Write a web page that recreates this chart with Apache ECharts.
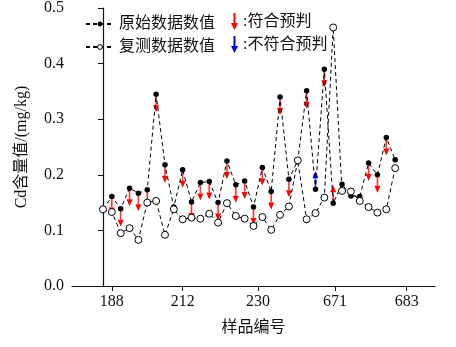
<!DOCTYPE html>
<html><head><meta charset="utf-8">
<script src="https://cdn.jsdelivr.net/npm/echarts@6/dist/echarts.min.js"></script>
<style>html,body{margin:0;padding:0;background:#fff}#c{width:456px;height:347px}</style>
</head><body><div id="c"></div>
<script>
// sample sequence (x = position index 0..33)
const originalValues = [0.138,0.161,0.139,0.176,0.167,0.173,0.345,0.218,0.142,0.209,0.151,0.186,0.188,0.150,0.225,0.182,0.189,0.142,0.213,0.170,0.340,0.192,0.226,0.351,0.174,0.390,0.149,0.183,0.162,0.161,0.221,0.200,0.267,0.227];
const retestValues   = [0.138,0.133,0.095,0.104,0.083,0.150,0.153,0.092,0.138,0.120,0.123,0.121,0.130,0.114,0.149,0.126,0.121,0.108,0.124,0.101,0.128,0.143,0.226,0.120,0.131,0.159,0.465,0.171,0.170,0.153,0.142,0.132,0.138,0.212];
// predicted direction: -1 down, 1 up, 0 no arrow
const arrowDir       = [0,-1,-1,-1,-1,-1,-1,-1,0,-1,-1,-1,-1,-1,-1,-1,-1,-1,-1,-1,-1,-1,0,-1,1,-1,1,0,0,0,-1,-1,-1,0];
// 1 = 符合预判 (red), 0 = 不符合预判 (blue)
const arrowMatch     = [1,1,1,1,1,1,1,1,1,1,1,1,1,1,1,1,1,1,1,1,1,1,1,1,0,1,1,1,1,1,1,1,1,1];
const tickLabels     = ['188','212','230','671','683'];
const tickPositions  = [1, 9, 17.5, 26.2, 34.3];

const seriesNames = ['原始数据数值','复测数据数值'];
const arrowNames = [':符合预判',':不符合预判'];

const origData = originalValues.map((v,i)=>[i,v]);
const retData = retestValues.map((v,i)=>[i,v]);
const redArrows = [], blueArrows = [];
arrowDir.forEach((d,i)=>{ if(d!==0){ (arrowMatch[i]?redArrows:blueArrows).push([i, originalValues[i], d]); } });

function arrowRender(color){
  return function(params, api){
    const p = api.coord([api.value(0), api.value(1)]);
    const dir = api.value(2);
    const L = 18, head = 7, hw = 3;
    const tipY = p[1] - dir*L;
    const baseY = tipY + dir*head;
    return {type:'group', children:[
      {type:'line', shape:{x1:p[0], y1:p[1], x2:p[0], y2:baseY}, style:{stroke:color, lineWidth:1.6, opacity:0.8}},
      {type:'polygon', shape:{points:[[p[0]-hw,baseY],[p[0]+hw,baseY],[p[0],tipY]]}, style:{fill:color}}
    ]};
  };
}

const serif = '"Liberation Serif","Noto Sans CJK SC",serif';
const arrowIcon = 'path://M2,0 L4,0 L4,10 L6.5,10 L3,17 L-0.5,10 L2,10 Z';

const chart = echarts.init(document.getElementById('c'), null, {renderer:'canvas'});
chart.setOption({
  animation:false,
  backgroundColor:'#fff',
  grid:{left:72, right:21, top:8, bottom:61},
  legend:[
    {data:[
        {name:seriesNames[0]},
        {name:seriesNames[1], itemStyle:{color:'#fff', borderColor:'#000', borderWidth:1}}
      ],
     orient:'vertical', left:80, top:11, itemWidth:28, itemHeight:6, itemGap:7,
     textStyle:{fontFamily:serif, fontSize:16, color:'#111'}},
    {data:arrowNames.map(n=>({name:n, icon:arrowIcon})), orient:'vertical', left:226, top:8, itemWidth:7, itemHeight:17, itemGap:6,
     textStyle:{fontFamily:serif, fontSize:16, color:'#111'}}
  ],
  xAxis:{type:'value', min:-3.5, max:37.5,
    name:'样品编号', nameLocation:'middle', nameGap:34,
    nameTextStyle:{fontFamily:serif, fontSize:16, color:'#111'},
    axisLine:{show:true, lineStyle:{color:'#111', width:1.2}},
    axisTick:{show:true, customValues:tickPositions, length:5, lineStyle:{color:'#111'}},
    axisLabel:{customValues:tickPositions, fontFamily:serif, fontSize:16, color:'#111', margin:8,
      formatter:(v)=>{const k=tickPositions.findIndex(t=>Math.abs(t-v)<1e-6); return k>=0?tickLabels[k]:'';}},
    splitLine:{show:false}},
  yAxis:{type:'value', min:0, max:0.5, interval:0.1,
    name:'Cd含量值/(mg/kg)', nameLocation:'middle', nameGap:42,
    nameTextStyle:{fontFamily:serif, fontSize:16, color:'#111'},
    axisLine:{show:true, lineStyle:{color:'#111', width:1.2}},
    axisTick:{show:true, length:5, lineStyle:{color:'#111'}},
    axisLabel:{fontFamily:serif, fontSize:16, color:'#111', margin:8, formatter:(v)=>v.toFixed(1)},
    splitLine:{show:false}},
  series:[
    {name:arrowNames[0], type:'custom', data:redArrows, renderItem:arrowRender('#ff0000'), itemStyle:{color:'#ff0000'}, z:1},
    {name:arrowNames[1], type:'custom', data:blueArrows, renderItem:arrowRender('#0000ff'), itemStyle:{color:'#0000ff'}, z:1},
    {name:seriesNames[0], type:'line', data:origData, symbol:'circle', symbolSize:5.5,
      itemStyle:{color:'#000'}, lineStyle:{color:'#000', width:1, type:[4,3]}, z:2},
    {name:seriesNames[1], type:'line', data:retData, symbol:'circle', symbolSize:7,
      itemStyle:{color:'#fff', borderColor:'#000', borderWidth:1}, lineStyle:{color:'#000', width:1, type:[4,3]}, z:3}
  ]
});
</script></body></html>
